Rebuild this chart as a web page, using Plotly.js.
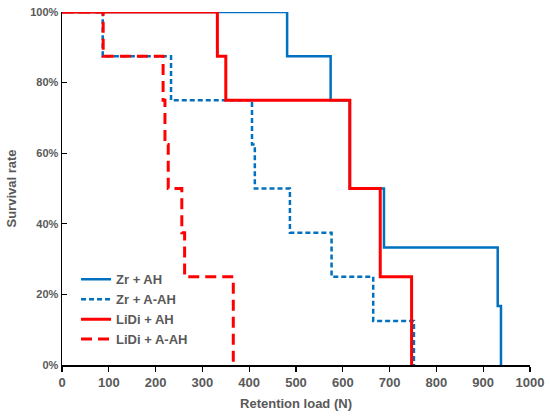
<!DOCTYPE html>
<html>
<head>
<meta charset="utf-8">
<script src="https://cdn.plot.ly/plotly-3.0.1.min.js"></script>
<style>html,body{margin:0;padding:0;background:#fff;}#chart{width:550px;height:418px;}</style>
</head>
<body>
<div id="chart"></div>
<script>
// Kaplan-Meier style step data (x = retention load N, y = survival %)
const zrAH_x = [0, 481, 574, 615, 688, 931, 938];
const zrAH_y = [100, 87.5, 75, 50, 33.3, 16.7, 0];
const zrAAH_x = [0, 87, 233, 406, 412, 487, 576, 665, 752];
const zrAAH_y = [100, 87.5, 75, 62.5, 50, 37.5, 25, 12.5, 0];
const lidiAH_x = [0, 332, 350, 615, 680, 747];
const lidiAH_y = [100, 87.5, 75, 50, 25, 0];
const lidiAAH_x = [0, 88, 216, 220, 227, 256, 262, 366];
const lidiAAH_y = [100, 87.5, 75, 62.5, 50, 37.5, 25, 0];
const seriesNames = ['Zr + AH', 'Zr + A-AH', 'LiDi + AH', 'LiDi + A-AH'];
const xTicks = [0, 100, 200, 300, 400, 500, 600, 700, 800, 900, 1000];
const yTicks = [0, 20, 40, 60, 80, 100];

const BLUE = '#0070C0', RED = '#FF0000', GRAY = '#595959';
const FONT = 'Liberation Sans, Arial, sans-serif';

const traces = [
  {x: zrAH_x, y: zrAH_y, name: seriesNames[0], line: {color: BLUE, width: 2.5, shape: 'hv'}},
  {x: zrAAH_x, y: zrAAH_y, name: seriesNames[1], line: {color: BLUE, width: 2.5, shape: 'hv', dash: '5px,3px'}},
  {x: lidiAH_x, y: lidiAH_y, name: seriesNames[2], line: {color: RED, width: 3, shape: 'hv'}},
  {x: lidiAAH_x, y: lidiAAH_y, name: seriesNames[3], line: {color: RED, width: 3, shape: 'hv', dash: '11px,6px'}}
].map(t => Object.assign(t, {type: 'scatter', mode: 'lines', cliponaxis: false, hoverinfo: 'skip'}));

const layout = {
  width: 550, height: 418,
  margin: {l: 62, r: 20, t: 12, b: 53},
  paper_bgcolor: '#fff', plot_bgcolor: '#fff',
  font: {family: FONT, color: GRAY, size: 12},
  showlegend: true,
  legend: {
    x: 0.03, y: 0.285, xanchor: 'left', yanchor: 'top',
    bgcolor: 'rgba(0,0,0,0)', borderwidth: 0,
    font: {family: FONT, size: 13, color: GRAY, weight: 'bold'},
    itemwidth: 30, tracegroupgap: 0
  },
  xaxis: {
    range: [0, 1000], tickvals: xTicks, ticktext: xTicks.map(String),
    showgrid: false, zeroline: false, showline: true, linecolor: '#000', linewidth: 1.5,
    ticks: 'outside', ticklen: 5, tickcolor: '#000', tickwidth: 1.2,
    tickfont: {family: FONT, size: 13, color: GRAY, weight: 'bold'},
    title: {text: 'Retention load (N)', font: {family: FONT, size: 13, color: GRAY, weight: 'bold'}, standoff: 10},
    fixedrange: true
  },
  yaxis: {
    range: [0, 100], tickvals: yTicks, ticktext: yTicks.map(v => v + '%'),
    showgrid: false, zeroline: false, showline: true, linecolor: '#000', linewidth: 1.5,
    ticks: 'inside', ticklen: 5, tickcolor: '#000', tickwidth: 1.2,
    tickfont: {family: FONT, size: 11, color: GRAY, weight: 'bold'},
    title: {text: 'Survival rate', font: {family: FONT, size: 13, color: GRAY, weight: 'bold'}, standoff: 10},
    fixedrange: true
  }
};

Plotly.newPlot('chart', traces, layout, {staticPlot: true, displayModeBar: false});
</script>
</body>
</html>
